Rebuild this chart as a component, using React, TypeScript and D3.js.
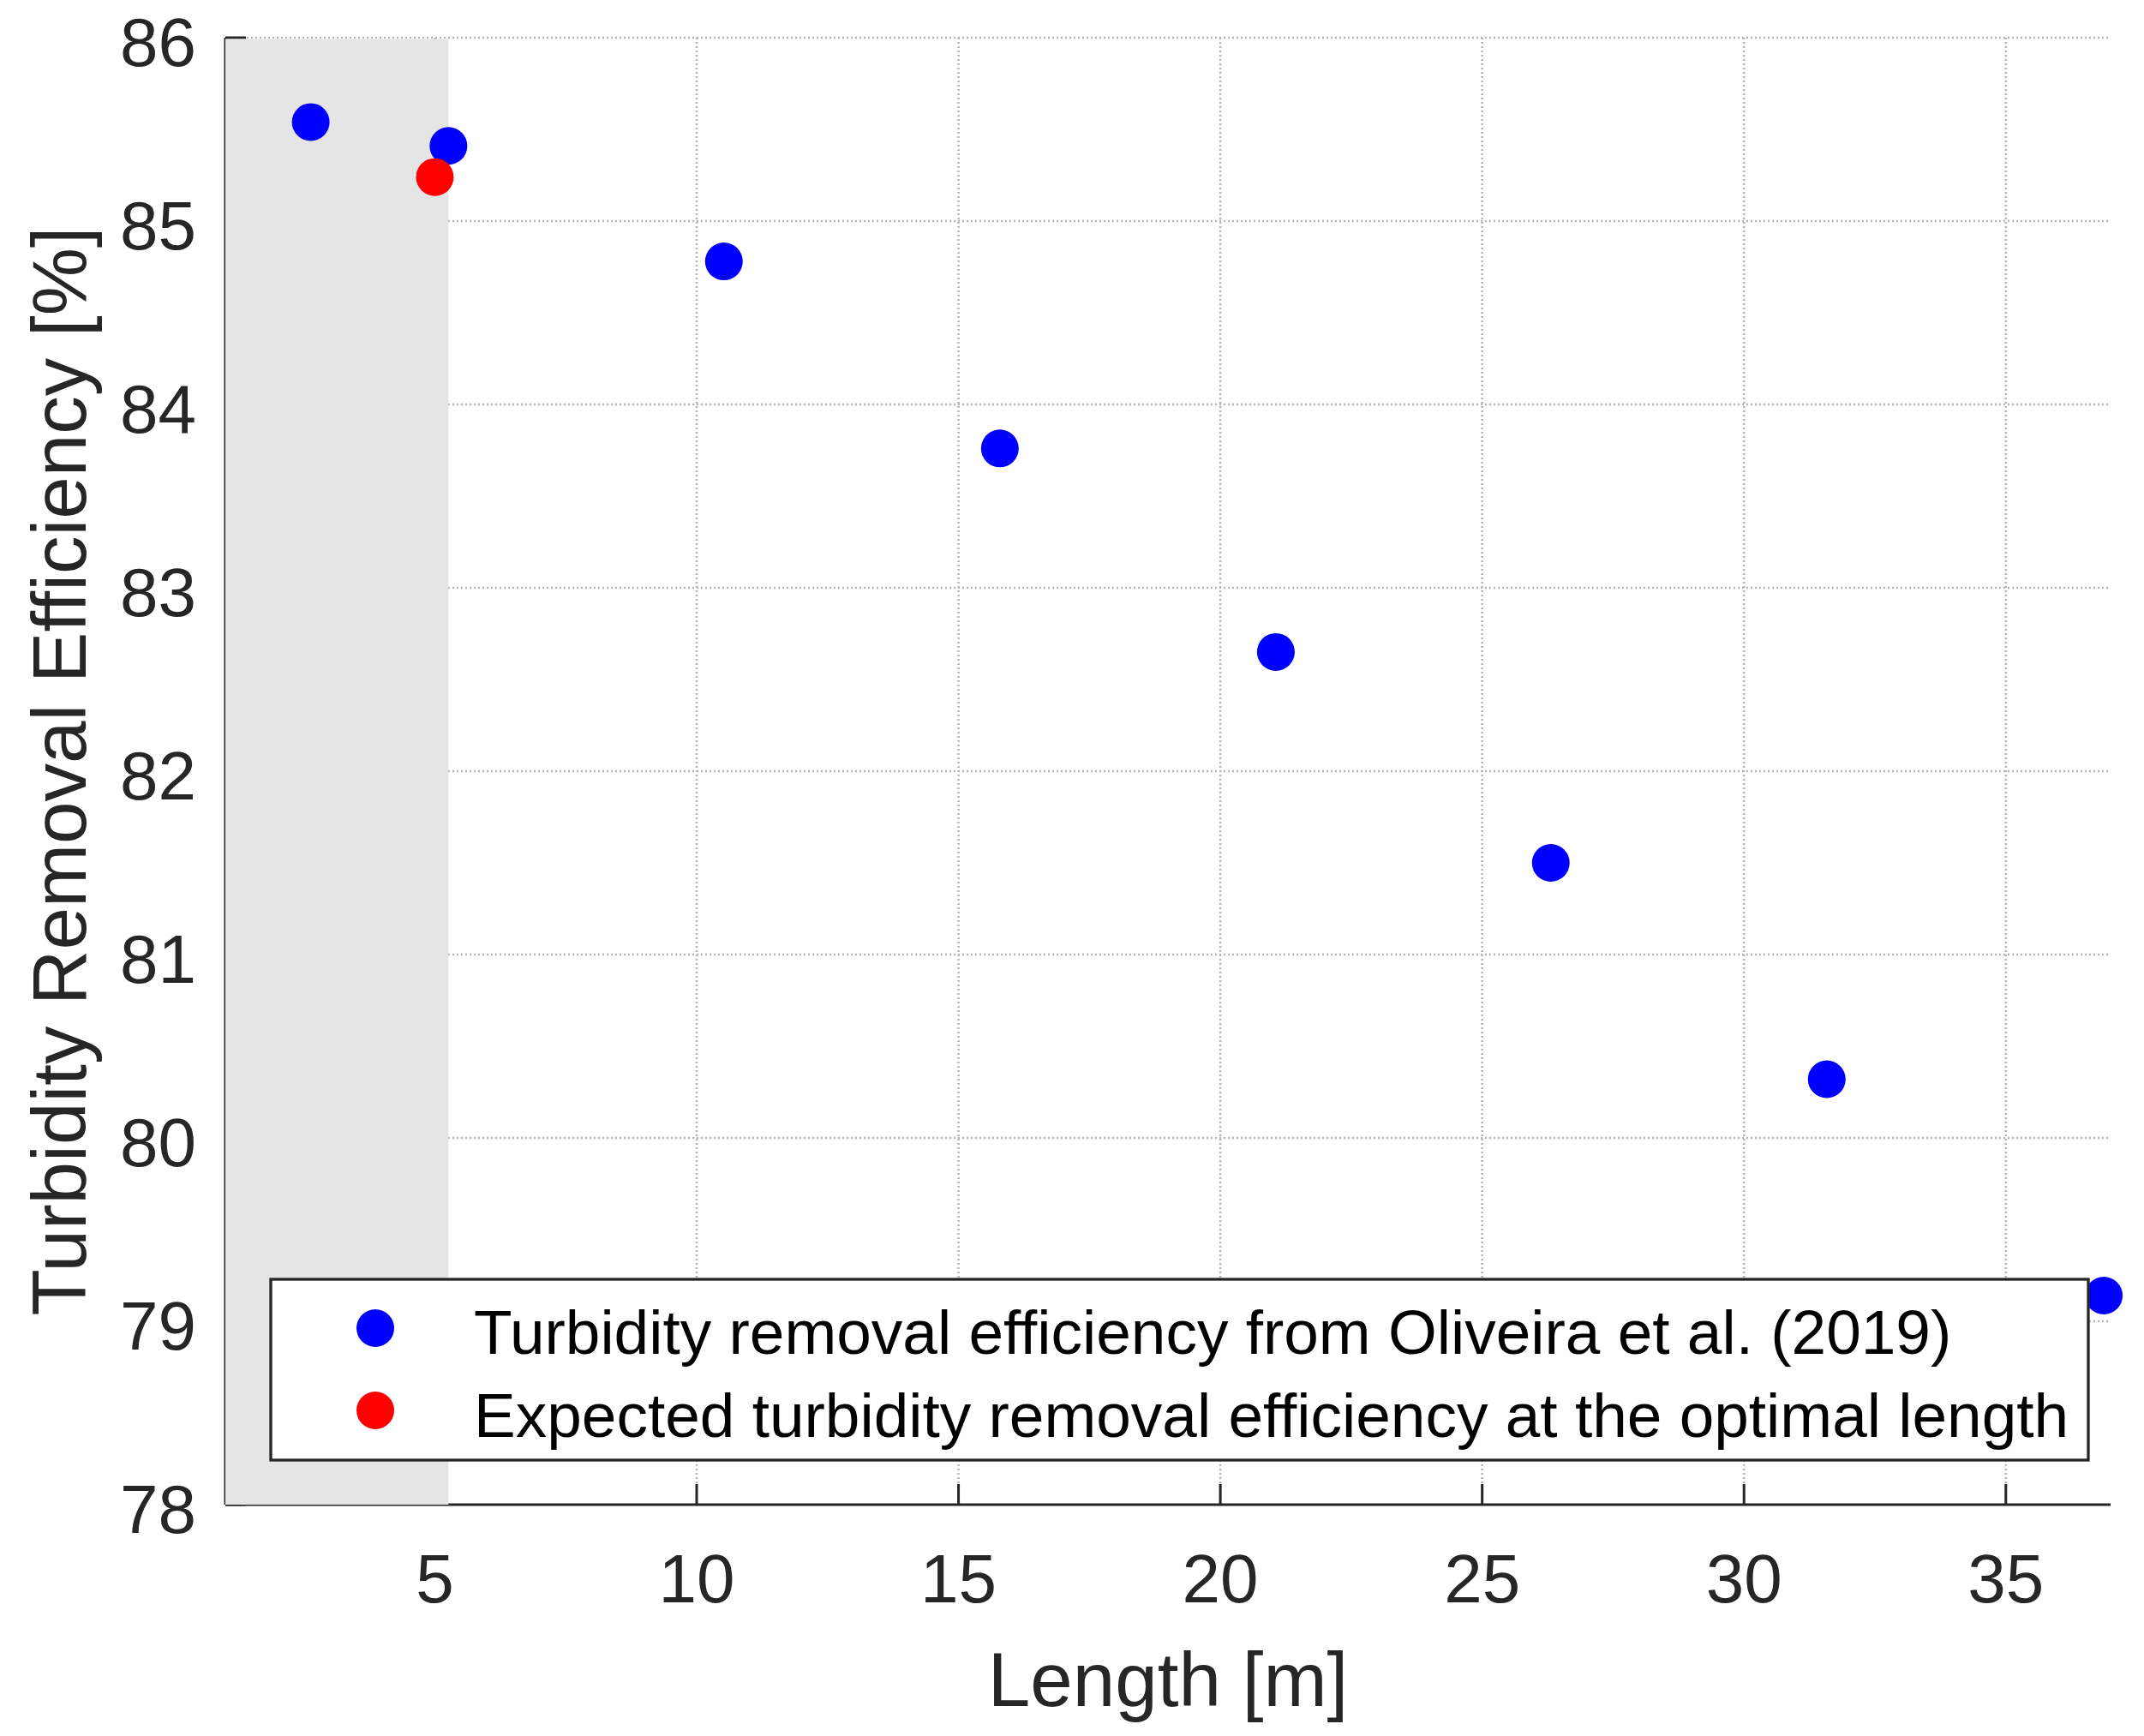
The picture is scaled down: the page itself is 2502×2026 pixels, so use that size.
import React from "react";
import * as d3 from "d3";

// ---- data ----
const lengths: number[] = [2.63, 5.26, 10.52, 15.79, 21.06, 26.31, 31.58, 36.87];
const efficiency: number[] = [85.54, 85.41, 84.78, 83.76, 82.65, 81.5, 80.32, 79.14];
const optimalLength: number[] = [5.0];
const optimalEfficiency: number[] = [85.24];
const shadedRange: number[] = [1, 5.26];
const xTicks: number[] = [5, 10, 15, 20, 25, 30, 35];
const yTicks: number[] = [78, 79, 80, 81, 82, 83, 84, 85, 86];
const legendLabels: string[] = [
  "Turbidity removal efficiency from Oliveira et al. (2019)",
  "Expected turbidity removal efficiency at the optimal length",
];
const legendColors: string[] = ["#0000ff", "#ff0000"];

const W = 2502;
const H = 2026;
const FONT = "'Liberation Sans', Arial, Helvetica, sans-serif";
const AX = "#262626";

export default function App() {
  const x = d3.scaleLinear().domain([1, 37]).range([263, 2463]);
  const y = d3.scaleLinear().domain([78, 86]).range([1756, 44]);
  const [x0, x1] = x.range();
  const [yb, yt] = y.range();
  const r = 22;

  return (
    <svg
      width={W}
      height={H}
      viewBox={`0 0 ${W} ${H}`}
      style={{ position: "absolute", left: 0, top: 0, display: "block", background: "#fff" }}
      fontFamily={FONT}
    >
      <rect x={0} y={0} width={W} height={H} fill="#fff" />
      {/* grid */}
      <g stroke="#b4b4b4" strokeWidth={2.5} strokeDasharray="2 3" fill="none">
        {xTicks.map((t) => (
          <line key={"gx" + t} x1={x(t)} x2={x(t)} y1={yb} y2={yt} />
        ))}
        {yTicks
          .filter((t) => t !== 78)
          .map((t) => (
            <line key={"gy" + t} x1={x0} x2={x1} y1={y(t)} y2={y(t)} />
          ))}
      </g>
      {/* axes */}
      <g stroke={AX} strokeWidth={3} fill="none">
        <line x1={x0} x2={x1} y1={yb} y2={yb} />
        <line x1={x0} x2={x0} y1={yb} y2={yt} />
        {xTicks.map((t) => (
          <line key={"tx" + t} x1={x(t)} x2={x(t)} y1={yb} y2={yb - 24} />
        ))}
        {yTicks.map((t) => (
          <line key={"ty" + t} x1={x0} x2={x0 + 24} y1={y(t)} y2={y(t)} />
        ))}
      </g>
      {/* shaded region */}
      <rect
        x={x(shadedRange[0])}
        y={yt + 1.5}
        width={x(shadedRange[1]) - x(shadedRange[0])}
        height={yb - yt - 1.5}
        fill="#e5e5e5"
      />
      {/* tick labels */}
      <g fill={AX} fontSize={80}>
        {xTicks.map((t) => (
          <text key={"lx" + t} x={x(t)} y={1870} textAnchor="middle">
            {t}
          </text>
        ))}
        {yTicks.map((t) => (
          <text key={"ly" + t} x={229} y={y(t) + 32.5} textAnchor="end">
            {t}
          </text>
        ))}
      </g>
      {/* axis labels */}
      <text x={(x0 + x1) / 2} y={1991} textAnchor="middle" fontSize={89} fill={AX}>
        Length [m]
      </text>
      <text
        transform={`translate(100,${(yb + yt) / 2}) rotate(-90)`}
        textAnchor="middle"
        fontSize={89}
        fill={AX}
      >
        Turbidity Removal Efficiency [%]
      </text>
      {/* data */}
      {lengths.map((l, i) => (
        <circle key={"p" + i} cx={x(l)} cy={y(efficiency[i])} r={r} fill={legendColors[0]} />
      ))}
      {optimalLength.map((l, i) => (
        <circle key={"o" + i} cx={x(l)} cy={y(optimalEfficiency[i])} r={r} fill={legendColors[1]} />
      ))}
      {/* legend */}
      <g>
        <rect x={316} y={1493} width={2121} height={211} fill="#fff" stroke={AX} strokeWidth={3.3} />
        {legendLabels.map((lab, i) => (
          <g key={"lg" + i}>
            <circle cx={438} cy={1550 + i * 96} r={r} fill={legendColors[i]} />
            <text x={553} y={1580 + i * 96.5} fontSize={73} fill="#000">
              {lab}
            </text>
          </g>
        ))}
      </g>
    </svg>
  );
}
